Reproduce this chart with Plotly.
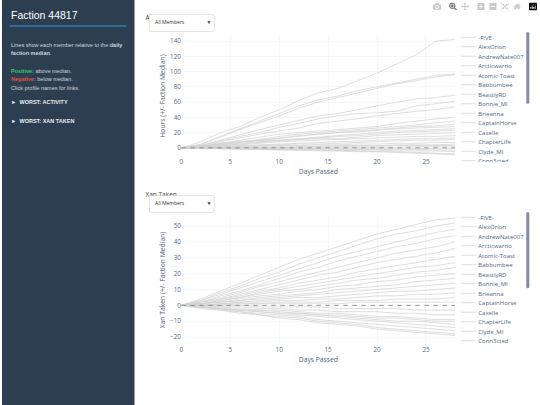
import plotly.graph_objects as go

days = [0, 2, 4, 6, 8, 10, 12, 14, 16, 18, 20, 22, 24, 26, 28]

members = ["-FIVE-", "AlexOrion", "AndrewNate007", "Arcticwarrio", "Atomic-Toast",
           "Babbumbee", "BeastlyRD", "Bonnie_MI", "Brieanna", "CaptainHorse",
           "Caxelle", "ChapterLife", "Clyde_MI", "Conn3cted", "Cool_Connor",
           "Coyote19", "DarkMatter", "Dezzy", "EagleOne", "Frostbyte",
           "Gh0stRider", "HexaKnight", "IronVex", "Jynx_", "KestrelK"]

activity = [
    [0, 8, 20, 28, 40, 50, 62, 72, 78, 88, 98, 110, 122, 140, 142],
    [0, 5, 15, 25, 35, 45, 55, 63, 68, 75, 80, 85, 90, 95, 97],
    [0, 4, 14, 24, 33, 42, 52, 60, 66, 72, 78, 84, 88, 93, 96],
    [0, 3, 10, 17, 24, 30, 36, 42, 45, 50, 55, 60, 64, 66, 69],
    [0, 3, 9, 15, 20, 27, 32, 38, 42, 45, 46, 48, 55, 58, 61],
    [0, 2, 8, 13, 18, 22, 26, 32, 35, 38, 42, 45, 48, 50, 54],
    [0, 2, 6, 10, 14, 18, 20, 22, 24, 26, 28, 32, 35, 38, 40],
    [0, 2, 5, 8, 11, 15, 18, 20, 22, 24, 26, 28, 30, 33, 35],
    [0, 1, 4, 7, 10, 13, 16, 18, 20, 22, 24, 26, 28, 29, 31],
    [0, 2, 5, 8, 10, 12, 15, 18, 20, 21, 23, 25, 26, 27, 28],
    [0, 1, 4, 6, 8, 10, 12, 14, 16, 18, 20, 22, 23, 24, 25],
    [0, 1, 3, 5, 7, 9, 11, 13, 15, 16, 18, 20, 21, 22, 23],
    [0, 2, 6, 8, 9, 10, 11, 12, 12, 14, 16, 17, 18, 19, 20],
    [0, 1, 3, 4, 6, 8, 9, 10, 11, 12, 13, 14, 15, 15, 16],
    [0, 1, 2, 3, 4, 5, 6, 7, 8, 9, 10, 11, 12, 12, 13],
    [0, 1, 2, 2, 3, 4, 5, 5, 6, 7, 8, 9, 10, 10, 11],
    [0, 1, 1, 2, 2, 3, 3, 4, 4, 5, 5, 6, 6, 7, 7],
    [0, 0, 1, 1, 1, 2, 2, 2, 3, 3, 3, 4, 4, 4, 5],
    [0, 0, 0, 1, 1, 1, 1, 2, 2, 2, 2, 3, 3, 3, 3],
    [0, 0, 0, 0, 0, 0, 1, 1, 1, 1, 1, 1, 2, 2, 2],
    [0, 0, -1, -1, -1, -2, -2, -2, -3, -3, -3, -4, -4, -4, -5],
    [0, 0, -1, -1, -2, -2, -3, -3, -4, -4, -5, -5, -6, -7, -8],
    [0, -1, -1, -2, -2, -3, -3, -4, -4, -5, -5, -6, -7, -8, -9],
    [0, 0, 0, -1, -1, -1, -1, -1, -2, -2, -2, -2, -2, -3, -3],
    [0, 0, 0, 0, -1, -1, -1, -1, -1, -1, -1, -1, -1, -1, -1],
]

xan = [
    [0, 4, 9, 14, 19, 24, 29, 33, 37, 41, 45, 48, 51, 54, 55],
    [0, 3, 8, 12, 17, 21, 26, 30, 34, 38, 42, 45, 47, 50, 52],
    [0, 3, 7, 11, 15, 19, 23, 27, 31, 34, 37, 40, 43, 46, 48],
    [0, 2, 6, 9, 13, 17, 21, 24, 28, 31, 34, 37, 39, 42, 44],
    [0, 2, 5, 8, 12, 15, 18, 21, 24, 27, 30, 33, 35, 37, 40],
    [0, 2, 4, 7, 10, 13, 16, 19, 21, 24, 27, 29, 31, 33, 36],
    [0, 1, 4, 6, 9, 11, 14, 16, 18, 21, 23, 25, 27, 29, 31],
    [0, 1, 3, 5, 8, 10, 12, 14, 16, 18, 20, 22, 24, 25, 27],
    [0, 1, 3, 5, 7, 9, 10, 12, 14, 16, 17, 19, 21, 22, 24],
    [0, 1, 2, 4, 6, 7, 9, 10, 12, 13, 15, 16, 18, 19, 20],
    [0, 1, 2, 3, 5, 6, 7, 8, 10, 11, 12, 13, 15, 16, 17],
    [0, 1, 2, 3, 4, 5, 6, 7, 8, 9, 10, 11, 12, 13, 14],
    [0, 0, 1, 2, 3, 4, 5, 5, 6, 7, 8, 9, 9, 10, 11],
    [0, 0, 1, 2, 2, 3, 3, 4, 4, 5, 6, 6, 7, 7, 8],
    [0, 0, 1, 1, 1, 2, 2, 2, 3, 3, 3, 4, 4, 4, 5],
    [0, 0, 0, 1, 1, 1, 1, 1, 1, 2, 2, 2, 2, 2, 2],
    [0, 0, 0, 0, -1, -1, -1, -1, -2, -2, -2, -2, -3, -3, -3],
    [0, 0, -1, -1, -2, -2, -3, -3, -4, -4, -4, -5, -5, -6, -6],
    [0, -1, -1, -2, -3, -3, -4, -5, -5, -6, -7, -7, -8, -9, -9],
    [0, -1, -2, -3, -4, -5, -5, -6, -7, -8, -9, -10, -10, -11, -12],
    [0, -1, -2, -3, -4, -5, -6, -7, -8, -9, -10, -11, -12, -13, -14],
    [0, -1, -2, -4, -5, -6, -7, -9, -10, -11, -12, -13, -14, -15, -16],
    [0, -1, -3, -4, -6, -7, -8, -10, -11, -12, -14, -15, -16, -17, -18],
    [0, -2, -3, -5, -6, -8, -9, -11, -12, -13, -15, -16, -17, -18, -19],
    [0, -1, -2, -3, -3, -4, -5, -6, -6, -7, -8, -8, -9, -10, -10],
]

# the page is laid out at twice the size and shrunk to 540x405 in the browser
S = 2
W, H = 540, 405
LINE = "#d3d3d3"
TXT = "#506784"

fig = go.Figure()
for name, vals in zip(members, activity):
    fig.add_trace(go.Scatter(x=days, y=vals, name=name, mode="lines",
                             line=dict(color=LINE, width=1.5), xaxis="x", yaxis="y",
                             legend="legend"))
for name, vals in zip(members, xan):
    fig.add_trace(go.Scatter(x=days, y=vals, name=name, mode="lines",
                             line=dict(color=LINE, width=1.5), xaxis="x2", yaxis="y2",
                             legend="legend2"))
# median reference lines
for xa, ya in [("x", "y"), ("x2", "y2")]:
    fig.add_trace(go.Scatter(x=[days[0], days[-1]], y=[0, 0], mode="lines",
                             line=dict(color="#777", width=1.5, dash="dash"),
                             showlegend=False, xaxis=xa, yaxis=ya, hoverinfo="skip"))

ax = dict(gridcolor="#ebf0f8", zeroline=False, tickfont=dict(size=12.5, color=TXT),
          range=[0, 28], dtick=5, showline=False)
ttl = dict(size=13.5, color=TXT)
fig.update_layout(
    width=W * S, height=H * S, margin=dict(l=0, r=0, t=0, b=0),
    paper_bgcolor="white", plot_bgcolor="white",
    font=dict(family="Open Sans", color=TXT),
    xaxis=dict(ax, domain=[180 / W, 455 / W], anchor="y",
               title=dict(text="Days Passed", font=ttl, standoff=8)),
    yaxis=dict(ax, domain=[1 - 157 / H, 1 - 35 / H], range=[-12, 148], dtick=20,
               anchor="x", title=dict(text="Hours (+/- Faction Median)", font=ttl, standoff=6)),
    xaxis2=dict(ax, domain=[180 / W, 455 / W], anchor="y2",
                title=dict(text="Days Passed", font=ttl, standoff=8)),
    yaxis2=dict(ax, domain=[1 - 345 / H, 1 - 215 / H], range=[-25, 57], dtick=10,
                anchor="x2", title=dict(text="Xan Taken (+/- Faction Median)", font=ttl, standoff=6)),
    legend=dict(x=458 / W, y=1 - 30 / H, yanchor="top", font=dict(size=12, color=TXT),
                maxheight=132 * S, bgcolor="rgba(0,0,0,0)"),
    legend2=dict(x=458 / W, y=1 - 210 / H, yanchor="top", font=dict(size=12, color=TXT),
                 maxheight=136 * S, bgcolor="rgba(0,0,0,0)"),
    shapes=[
        dict(type="rect", xref="paper", yref="paper", x0=0, x1=133 / W, y0=0, y1=1,
             fillcolor="#2c3e50", line_width=0, layer="below"),
        dict(type="line", xref="paper", yref="paper", x0=8 / W, x1=125 / W,
             y0=1 - 26 / H, y1=1 - 26 / H, line=dict(color="#3498db", width=2)),
    ],
)

pad = "\u00a0" * 12
menu_buttons = [dict(label="All Members" + pad, method="skip", args=[None]),
                dict(label="Top 10" + pad, method="skip", args=[None]),
                dict(label="Bottom 10" + pad, method="skip", args=[None])]
fig.update_layout(updatemenus=[
    dict(type="dropdown", x=147 / W, y=1 - 14 / H, xanchor="left", yanchor="top",
         bgcolor="white", bordercolor="#ccc", font=dict(size=10, color="#333"),
         pad=dict(t=0, r=0, b=0, l=0), buttons=menu_buttons),
    dict(type="dropdown", x=147 / W, y=1 - 195 / H, xanchor="left", yanchor="top",
         bgcolor="white", bordercolor="#ccc", font=dict(size=10, color="#333"),
         pad=dict(t=0, r=0, b=0, l=0), buttons=menu_buttons),
])

side = [
    (8, 15, "Faction 44817", 21, "#ffffff"),
    (8, 45, "Lines show each member relative to the <b>daily</b>", 11, "#d0d6dc"),
    (8, 53, "<b>faction median</b>.", 11, "#d0d6dc"),
    (8, 71, "<b><span style='color:#2ecc71'>Positive:</span></b> above median.", 11, "#d0d6dc"),
    (8, 79, "<b><span style='color:#e74c3c'>Negative:</span></b> below median.", 11, "#d0d6dc"),
    (8, 88, "Click profile names for links.", 11, "#d0d6dc"),
    (8, 102, "<b>►  WORST: ACTIVITY</b>", 11, "#e8ecef"),
    (8, 121, "<b>►  WORST: XAN TAKEN</b>", 11, "#e8ecef"),
]
ann = [dict(xref="paper", yref="paper", x=px / W, y=1 - py / H, text=t, showarrow=False,
            xanchor="left", yanchor="middle", font=dict(size=s, color=c, family="Liberation Sans"))
       for px, py, t, s, c in side]
ann += [dict(xref="paper", yref="paper", x=143 / W, y=1 - 12 / H, text="Activity",
             showarrow=False, xanchor="left", font=dict(size=13, color="#444")),
        dict(xref="paper", yref="paper", x=143 / W, y=1 - 194 / H, text="Xan Taken",
             showarrow=False, xanchor="left", font=dict(size=13, color="#444"))]
fig.update_layout(annotations=ann)

shrink = ("document.body.style.margin='0';"
          "var d=document.getElementById('{plot_id}');"
          "d.parentElement.style.transform='scale(0.5)';"
          "d.parentElement.style.transformOrigin='0 0';")
fig.write_html("out.html", post_script=shrink)
